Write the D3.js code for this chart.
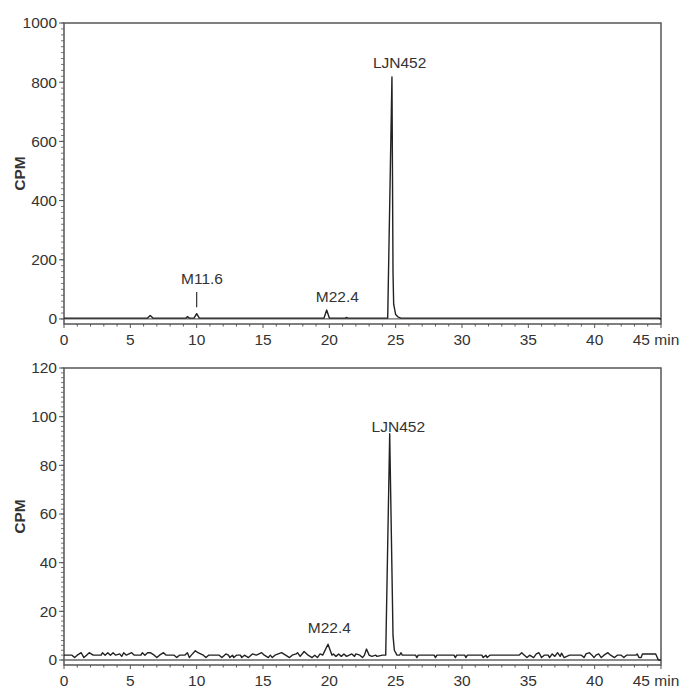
<!DOCTYPE html>
<html>
<head>
<meta charset="utf-8">
<script src="https://cdn.jsdelivr.net/npm/d3@7"></script>
<style>
  body { margin: 0; background: #fff; }
  svg text { font-family: "Liberation Sans", Arial, sans-serif; fill: #333; }
</style>
</head>
<body>
<svg id="chart" width="680" height="688"></svg>
<script>
// x ticks (minutes)
var xTicks = [0, 5, 10, 15, 20, 25, 30, 35, 40, 45];
var topYTicks = [0, 200, 400, 600, 800, 1000];
var bottomYTicks = [0, 20, 40, 60, 80, 100, 120];

// top chromatogram [time, CPM]
var topTrace = [
  [0, 3], [6.3, 3], [6.5, 12], [6.7, 3], [9.2, 3], [9.3, 8], [9.45, 3],
  [9.8, 3], [10.0, 18], [10.2, 3], [19.6, 3], [19.8, 30], [20.0, 3],
  [21.2, 3], [21.3, 5], [21.4, 3],
  [24.4, 3], [24.72, 818], [24.8, 155], [24.85, 50], [25.0, 15],
  [25.2, 6], [25.4, 3], [44.85, 3], [44.95, 0], [45, 0]
];

// bottom chromatogram [time, CPM]
var bottomTrace = [
  [0, 2], [0.6, 2], [0.8, 1], [1.0, 2], [1.3, 3], [1.5, 1], [1.7, 2], [1.9, 3],
  [2.2, 2], [2.8, 2], [2.9, 3], [3.1, 2], [3.3, 3], [3.5, 2], [3.7, 3], [3.9, 2],
  [4.2, 2.5], [4.35, 1.5], [4.5, 3], [4.7, 2], [5.1, 3], [5.3, 2], [5.8, 2],
  [5.9, 3], [6.1, 2], [6.3, 3], [6.5, 3], [6.8, 2], [7.0, 1], [7.2, 2], [7.5, 3],
  [7.7, 2], [8.3, 2], [8.5, 1], [8.7, 2], [9.1, 2], [9.3, 3], [9.45, 1], [9.6, 2],
  [9.9, 3.8], [10.1, 3], [10.3, 2.5], [10.5, 2], [10.7, 1], [10.9, 2], [11.7, 2],
  [11.9, 1], [12.1, 2], [12.2, 2.5], [12.4, 2], [12.5, 1], [12.7, 2], [12.8, 1],
  [13.0, 2], [13.3, 2], [13.4, 1], [13.6, 2], [13.9, 1], [14.1, 2], [14.2, 2.5],
  [14.5, 2], [14.9, 3], [15.1, 2], [15.4, 1], [15.55, 2], [15.7, 1], [15.9, 2],
  [16.4, 3], [16.7, 2], [17.0, 1], [17.2, 2], [17.5, 2.5], [17.6, 3], [17.8, 1.5],
  [18.1, 3.5], [18.4, 2], [18.7, 1], [18.9, 2], [19.1, 1], [19.3, 2.5], [19.5, 2],
  [19.9, 6.5], [20.2, 2], [20.3, 2.5], [20.5, 1.5], [20.7, 2.5], [20.9, 1.5],
  [21.1, 2.5], [21.3, 1.5], [21.7, 2.5], [21.9, 1.5], [22.0, 2.5], [22.3, 2],
  [22.5, 1], [22.65, 2], [22.8, 4.5], [23.0, 2], [23.2, 1.5], [23.5, 2],
  [23.6, 1.5], [24.0, 2], [24.25, 2], [24.55, 93], [24.8, 10], [24.9, 4],
  [25.1, 2], [25.3, 2], [25.4, 3], [25.5, 2], [26.5, 2], [26.6, 1], [26.7, 2],
  [27.9, 2], [28.0, 1], [28.1, 2], [29.4, 2], [29.5, 1], [29.6, 2], [30.2, 2],
  [30.3, 1], [30.4, 2], [31.5, 2], [31.6, 1], [31.8, 2], [31.9, 1], [32.1, 2],
  [34.3, 2], [34.5, 3], [34.7, 2], [34.9, 1], [35.1, 2], [35.4, 1], [35.6, 2.5],
  [35.8, 3], [36.0, 1], [36.2, 2], [36.5, 2], [36.6, 1], [36.8, 2.5], [37.0, 1.5],
  [37.2, 3], [37.4, 1.5], [37.5, 2.8], [37.7, 1], [37.9, 1.5], [38.1, 2], [39.0, 2],
  [39.2, 1], [39.35, 2.5], [39.6, 3], [39.8, 2], [39.95, 1], [40.1, 2], [40.3, 2.5],
  [40.5, 1], [40.7, 2], [41.0, 3], [41.2, 2], [41.5, 1], [41.7, 2], [42.0, 2],
  [42.2, 1], [42.4, 2], [43.1, 2], [43.2, 2.5], [43.35, 1], [43.5, 1], [43.6, 2.5],
  [44.6, 2.5], [44.8, 0], [45, 0]
];

// peak annotations [label, time, CPM at text baseline]
var topLabels = [["M11.6", 10.4, 117], ["M22.4", 20.6, 57], ["LJN452", 25.3, 848]];
var bottomLabels = [["M22.4", 20.0, 11.2], ["LJN452", 25.2, 93.7]];

var svg = d3.select("#chart");
var x = d3.scaleLinear().domain([0, 45]).range([64, 661]);

function panel(cfg) {
  var y = d3.scaleLinear().domain(cfg.yDomain).range([cfg.bottom, cfg.top]);
  var g = svg.append("g");
  var frame = "#555";

  // minor ticks on y axis
  g.selectAll(".ymin").data(d3.range(0, cfg.yDomain[1] + 0.001, cfg.minor))
    .enter().append("line")
    .attr("x1", 61).attr("x2", 64)
    .attr("y1", function(d) { return y(d); }).attr("y2", function(d) { return y(d); })
    .attr("stroke", frame).attr("stroke-width", 0.8);

  // minor ticks on x axis, every minute
  g.selectAll(".xmin").data(d3.range(0, 46, 1))
    .enter().append("line")
    .attr("x1", function(d) { return x(d); }).attr("x2", function(d) { return x(d); })
    .attr("y1", cfg.bottom).attr("y2", function(d) { return cfg.bottom + (d % 5 === 0 ? 4 : 2.5); })
    .attr("stroke", frame).attr("stroke-width", 1);

  // frame
  g.append("rect")
    .attr("x", 64).attr("y", cfg.top)
    .attr("width", 661 - 64).attr("height", cfg.bottom - cfg.top)
    .attr("fill", "none").attr("stroke", frame).attr("stroke-width", 1.5);

  // zero line
  g.append("line")
    .attr("x1", 64).attr("x2", 661)
    .attr("y1", y(0)).attr("y2", y(0))
    .attr("stroke", "#666").attr("stroke-width", 1.3);

  // y tick labels
  g.selectAll(".ylab").data(cfg.yTicks).enter().append("text")
    .attr("x", 57).attr("y", function(d) { return y(d); })
    .attr("dy", "0.35em").attr("text-anchor", "end")
    .attr("font-size", 15.5).text(function(d) { return d; });

  g.selectAll(".ymaj").data(cfg.yTicks).enter().append("line")
    .attr("x1", 59).attr("x2", 64)
    .attr("y1", function(d) { return y(d); }).attr("y2", function(d) { return y(d); })
    .attr("stroke", frame).attr("stroke-width", 1);

  // x tick labels
  g.selectAll(".xlab").data(xTicks).enter().append("text")
    .attr("x", function(d) { return d === 45 ? x(d) - 5 : x(d); })
    .attr("y", cfg.bottom + 20.5)
    .attr("text-anchor", "middle")
    .attr("font-size", 15.5)
    .text(function(d) { return d === 45 ? "45 min" : d; });

  // axis title
  g.append("text")
    .attr("transform", "translate(25," + ((cfg.top + cfg.bottom) / 2) + ") rotate(-90)")
    .attr("text-anchor", "middle").attr("font-size", 15.5).attr("font-weight", "bold")
    .attr("fill", "#222").text("CPM");

  // trace
  var line = d3.line()
    .x(function(d) { return x(d[0]); })
    .y(function(d) { return y(d[1]); });
  g.append("path").datum(cfg.trace)
    .attr("d", line).attr("fill", "none")
    .attr("stroke", "#222").attr("stroke-width", 1.4)
    .attr("stroke-linejoin", "round");

  // peak labels
  g.selectAll(".plab").data(cfg.labels).enter().append("text")
    .attr("x", function(d) { return x(d[1]); })
    .attr("y", function(d) { return y(d[2]); })
    .attr("text-anchor", "middle").attr("font-size", 15.5)
    .text(function(d) { return d[0]; });

  return y;
}

var yTop = panel({
  top: 23, bottom: 324, yDomain: [-17, 1000], minor: 20,
  yTicks: topYTicks, trace: topTrace, labels: topLabels
});

// marker under M11.6
svg.append("line")
  .attr("x1", x(10)).attr("x2", x(10))
  .attr("y1", yTop(91)).attr("y2", yTop(40))
  .attr("stroke", "#333").attr("stroke-width", 1.2);

panel({
  top: 368, bottom: 665, yDomain: [-2.05, 120], minor: 2,
  yTicks: bottomYTicks, trace: bottomTrace, labels: bottomLabels
});
</script>
</body>
</html>
